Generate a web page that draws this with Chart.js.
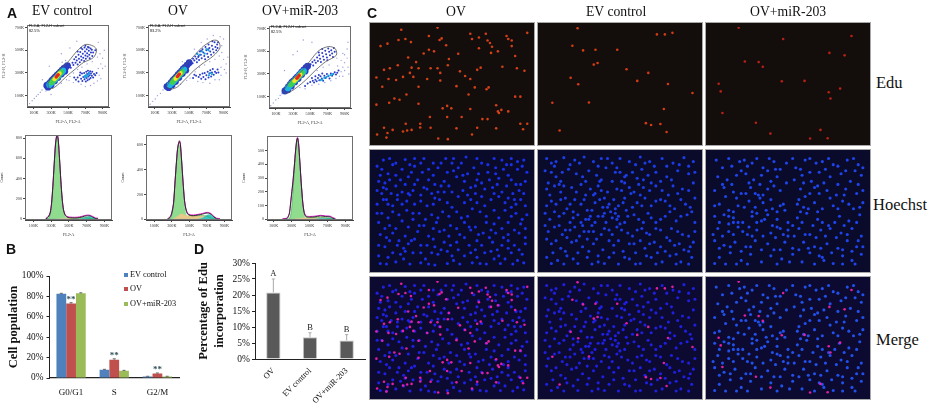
<!DOCTYPE html>
<html>
<head>
<meta charset="utf-8">
<title>Cell cycle and Edu figure</title>
<script src="https://cdn.jsdelivr.net/npm/chart.js@4"></script>
<style>
  html, body { margin: 0; padding: 0; background: #fff; }
  #page { position: relative; width: 931px; height: 406px; overflow: hidden; font-family: "Liberation Serif", serif; color: #111; }
  #page canvas { position: absolute; }
  .txt { position: absolute; white-space: nowrap; line-height: 1; transform: translateY(-50%); }
  .letter { font-family: "Liberation Sans", sans-serif; font-weight: bold; font-size: 14px; }
  .swatch { position: absolute; width: 4px; height: 4px; }
</style>
</head>
<body>
<div id="page"></div>
<script>
// --- panel B: cell population ---
const phases = ['G0/G1', 'S', 'G2/M'];
const groupNames = ['EV control', 'OV', 'OV+miR-203'];
const groupColors = ['#4f81bd', '#c0504d', '#9bbb59'];
const popEv = [82.5, 8, 1.5];
const popOv = [73, 18, 4.5];
const popMir = [83, 7, 1.5];
const popErrEv = [0.5, 0.5, 0.2];
const popErrOv = [0.8, 0.8, 0.4];
const popErrMir = [0.5, 0.5, 0.2];
const popStars = ['**', '**', '**'];
const popTicks = [0, 20, 40, 60, 80, 100];

// --- panel D: Edu incorporation ---
const eduGroups = ['OV', 'EV control', 'OV+miR-203'];
const eduValues = [20.8, 6.8, 5.8];
const eduTops = [25, 8.2, 7.6];
const eduLetters = ['A', 'B', 'B'];
const eduTicks = [0, 5, 10, 15, 20, 25, 30];

// --- panel A: flow axes ---
const flowXTicks = [100, 300, 500, 700, 900];
const flowYTicks = [100, 300, 500, 700];
const flowPercents = ['82.5%', '83.2%', '82.5%'];

// gates, x,y pairs in thousands
const gateEv = [263,207, 319,278, 433,350, 509,408, 604,494, 698,551, 793,537, 831,502, 793,436, 679,393, 585,336, 471,264, 395,207, 319,164, 274,169, 263,207];
const gateOv = [232,178, 308,264, 422,342, 573,465, 668,537, 782,588, 839,580, 858,522, 782,451, 649,379, 554,321, 441,235, 365,178, 289,158, 232,178];
const gateMir = [187,149, 263,235, 395,321, 490,408, 604,508, 717,542, 793,522, 804,465, 679,408, 566,336, 452,250, 338,178, 225,129, 187,149];

// density layers of the G1 blob
const evBlob0 = [250,190, 270,200, 290,215, 310,235, 330,250, 350,265, 370,280, 390,295, 410,310, 430,325, 450,340, 470,350, 490,365, 265,175, 300,195, 340,230, 380,260, 420,290, 460,315];
const evBlob1 = [280,195, 300,210, 320,225, 340,240, 360,255, 380,270, 400,290, 420,305, 440,320];
const evBlob2 = [305,215, 325,230, 345,245, 365,260, 385,275, 405,295, 420,310];
const evBlob3 = [340,245, 355,258, 370,270, 385,285, 400,297];
const evBlob4 = [360,265, 372,275, 384,285];
const ovBlob0 = [240,180, 265,195, 290,215, 310,235, 330,250, 350,265, 370,285, 390,300, 410,315, 430,335, 450,350, 475,370, 500,390, 260,170, 300,195, 340,225, 380,260, 420,295, 460,325];
const ovBlob1 = [275,195, 300,212, 320,228, 340,245, 360,262, 380,278, 400,295, 420,312, 440,330];
const ovBlob2 = [305,218, 325,235, 345,250, 365,266, 385,282, 405,298, 420,312];
const ovBlob3 = [340,248, 355,262, 370,275, 385,288, 400,300];
const ovBlob4 = [362,268, 374,280, 386,290];
const mirBlob0 = [205,150, 225,165, 245,185, 265,205, 285,225, 305,240, 330,258, 350,275, 375,295, 400,315, 425,335, 450,355, 470,370, 240,160, 280,195, 320,230, 360,260, 400,295, 440,325];
const mirBlob1 = [240,175, 260,195, 280,212, 300,228, 325,245, 345,262, 365,280, 385,296, 405,312, 425,325];
const mirBlob2 = [275,205, 295,222, 315,238, 335,252, 355,268, 375,285, 395,300, 410,312];
const mirBlob3 = [315,238, 335,252, 350,265, 365,278, 385,295];
const mirBlob4 = [345,262, 358,274, 372,286];

// blue dots inside the gate and in the lower population
const evBlue = [480,330, 500,350, 520,365, 530,345, 550,390, 560,370, 570,420, 585,390, 590,440, 600,410, 610,375, 620,460, 625,425, 635,395, 640,485, 650,445, 655,415, 665,510, 670,470, 675,435, 685,405, 690,525, 695,490, 700,455, 705,425, 715,510, 720,475, 725,445, 730,530, 740,495, 745,460, 750,430, 760,515, 765,480, 775,505, 780,450, 650,520, 610,490, 700,540, 740,525, 790,480, 815,500,
  590,240, 610,260, 620,225, 635,280, 650,250, 660,295, 665,230, 675,265, 685,300, 690,245, 700,275, 705,225, 710,310, 715,255, 720,290, 725,235, 730,320, 735,270, 740,300, 745,245, 750,280, 755,315, 760,255, 765,295, 775,275, 780,310, 790,260, 800,290, 815,280, 830,300, 570,260, 640,305];
const evHot = [690,270, 705,280, 720,272, 735,285, 700,262, 745,300];
const evSparse = [50,30, 80,55, 105,75, 130,95, 150,110, 175,130, 195,150, 220,180, 240,140, 330,190, 420,210, 480,240, 520,270, 560,300, 610,330, 660,350, 720,380, 780,400, 840,440, 870,470, 900,430, 880,380, 850,340, 900,340, 930,360, 860,280, 880,250, 840,230, 800,210, 760,190, 700,180, 650,200, 560,215, 510,235, 280,360, 420,470, 520,520, 600,580, 850,570, 920,500, 300,110, 200,240, 470,410, 430,395];
const ovBlue = [470,360, 495,380, 520,400, 540,385, 545,425, 560,410, 570,445, 585,425, 595,470, 605,440, 615,415, 625,490, 635,460, 645,430, 655,510, 665,480, 675,450, 685,420, 690,530, 700,500, 710,470, 720,440, 725,550, 735,520, 745,490, 755,460, 765,540, 775,510, 785,480, 795,570, 805,530, 815,500, 825,550, 835,570, 770,580, 720,510, 640,495, 610,450, 590,395, 830,520,
  610,265, 625,285, 640,250, 655,295, 665,265, 680,300, 690,245, 700,280, 715,310, 725,260, 735,295, 745,325, 755,270, 765,305, 775,335, 785,285, 800,310, 815,300, 830,330, 580,275, 545,255, 560,285, 840,305];
const ovHot = [590,470, 620,460, 650,490, 680,470, 700,510, 725,500, 745,300, 765,290, 730,280];
const ovSparse = [45,25, 75,50, 105,70, 130,100, 165,120, 195,150, 215,175, 300,170, 400,200, 470,235, 510,255, 570,310, 620,350, 680,370, 740,400, 800,420, 850,450, 880,480, 900,420, 930,380, 870,350, 910,330, 870,280, 850,240, 800,240, 740,210, 660,215, 600,225, 900,600, 880,540, 860,620, 780,630, 710,600, 640,570, 560,510, 420,400, 930,300, 950,440];
const mirBlue = [455,345, 480,370, 505,385, 525,405, 535,375, 550,420, 565,400, 580,445, 590,415, 605,465, 615,435, 625,405, 640,485, 650,455, 660,425, 675,505, 685,475, 695,445, 710,525, 720,495, 730,465, 745,510, 755,480, 765,450, 775,530, 785,495, 640,520, 600,490, 700,420,
  470,215, 500,230, 530,240, 545,225, 560,250, 575,235, 590,265, 605,245, 620,280, 635,260, 650,240, 665,285, 680,265, 695,300, 710,280, 725,260, 740,305, 755,285, 770,300, 785,315, 800,295, 815,310, 830,330, 600,290, 640,305, 560,280, 520,265, 440,195];
const mirHot = [640,250, 665,265, 690,275, 715,285, 740,290, 765,298, 620,245];
const mirSparse = [40,20, 70,45, 100,70, 130,85, 150,110, 170,125, 300,160, 380,180, 440,170, 520,200, 600,210, 670,225, 740,240, 800,260, 840,280, 860,320, 880,360, 900,400, 930,440, 900,330, 940,360, 950,300, 880,280, 820,370, 860,420, 810,440, 350,500, 420,600, 520,580, 300,470, 200,330, 460,320, 880,480, 930,520, 720,380, 650,360, 580,330, 940,580, 900,470];

// --- panel A: DNA histograms, x in thousands ---
const histEvX = [240, 270, 290, 305, 320, 335, 350, 362, 372, 382, 395, 410, 425, 440, 460, 490, 520, 560, 600, 640, 680, 710, 740, 770, 800, 830];
const histEvTotal = [0, 20, 60, 150, 320, 540, 740, 815, 825, 770, 600, 380, 200, 90, 35, 15, 12, 10, 12, 18, 28, 32, 30, 18, 5, 0];
const histEvG1 = [0, 5, 40, 130, 300, 520, 725, 800, 812, 755, 585, 365, 185, 75, 22, 4, 0, 0, 0, 0, 0, 0, 0, 0, 0, 0];
const histEvS = [0, 0, 0, 0, 0, 0, 0, 2, 3, 4, 5, 6, 8, 9, 10, 12, 11, 10, 11, 12, 12, 9, 5, 2, 0, 0];
const histEvG2 = [0, 0, 0, 0, 0, 0, 0, 0, 0, 0, 0, 0, 0, 0, 0, 0, 0, 0, 2, 6, 15, 22, 24, 15, 4, 0];
const histOvX = [250, 280, 300, 320, 335, 350, 365, 378, 388, 398, 412, 428, 445, 460, 480, 510, 550, 600, 650, 690, 720, 750, 780, 810, 850];
const histOvTotal = [0, 15, 50, 130, 280, 430, 560, 610, 625, 600, 470, 300, 150, 85, 45, 32, 30, 35, 42, 50, 50, 40, 20, 5, 0];
const histOvG1 = [0, 5, 35, 110, 260, 410, 535, 585, 598, 570, 440, 270, 120, 50, 10, 0, 0, 0, 0, 0, 0, 0, 0, 0, 0];
const histOvS = [0, 0, 2, 6, 12, 18, 24, 30, 38, 42, 44, 42, 36, 34, 32, 30, 28, 30, 30, 28, 20, 10, 3, 0, 0];
const histOvG2 = [0, 0, 0, 0, 0, 0, 0, 0, 0, 0, 0, 0, 0, 0, 0, 0, 0, 2, 12, 30, 40, 36, 18, 4, 0];
const histMirX = [200, 250, 275, 290, 300, 315, 330, 345, 358, 367, 378, 392, 408, 425, 440, 460, 500, 560, 620, 680, 730, 760, 790];
const histMirTotal = [0, 5, 40, 120, 180, 270, 380, 500, 575, 590, 550, 420, 260, 120, 50, 20, 16, 18, 24, 20, 18, 8, 0];
const histMirG1 = [0, 0, 4, 30, 70, 190, 340, 480, 560, 578, 535, 405, 245, 105, 35, 6, 0, 0, 0, 0, 0, 0, 0];
const histMirS = [0, 0, 0, 0, 1, 2, 3, 4, 5, 6, 7, 8, 9, 10, 11, 12, 12, 13, 14, 12, 8, 3, 0];
const histMirG2 = [0, 0, 0, 0, 0, 0, 0, 0, 0, 0, 0, 0, 0, 0, 0, 0, 0, 2, 8, 8, 9, 4, 0];
const histEvTicks = [0, 200, 400, 600, 800];
const histOvTicks = [0, 200, 400, 600];
const histMirTicks = [0, 100, 200, 300, 400, 500];

const fieldNames = ['OV', 'EV control', 'OV+miR-203'];
const eduCellsOv = [159,29, 79,9, 184,2, 190,42, 196,37, 71,42, 91,39, 107,49, 39,54, 19,62, 209,59, 159,74, 174,79, 144,86, 99,99, 244,87, 217,104, 284,39, 304,34, 324,22, 279,22, 329,44, 336,52, 342,64, 304,69, 359,79, 339,84, 384,29, 399,44, 389,39, 399,62, 444,19, 409,94, 122,114, 69,124, 46,134, 29,139, 109,132, 129,134, 104,149, 114,162, 84,162, 164,134, 184,134, 192,149, 214,124, 249,144, 299,139, 309,132, 264,159, 279,169, 372,129, 414,134, 436,142, 7,164, 42,169, 64,172, 154,169, 192,174, 239,192, 129,194, 24,194, 292,196, 326,202, 332,196, 274,219, 94,219, 59,232, 74,236, 44,246, 7,252, 129,249, 212,256, 199,264, 224,264, 279,266, 354,254, 359,274, 362,279, 409,226, 424,226, 389,274, 369,269, 212,292, 162,292, 254,292, 314,299, 329,299, 134,314, 92,314, 29,327, 54,334, 84,339, 96,336, 109,334, 134,326, 164,327, 239,329, 299,327, 284,349, 39,344, 9,349, 354,329, 424,314, 444,314, 432,332, 186,362, 214,364, 36,359];
const eduCellsEv = [103,4, 356,24, 378,19, 88,61, 119,76, 155,74, 218,74, 161,117, 150,122, 245,137, 276,175, 83,165, 105,186, 365,185, 436,214, 136,245, 30,246, 353,266, 316,318, 301,312, 343,315, 361,341, 51,336, 308,149, 333,24];
const eduCellsMir = [212,39, 346,84, 390,92, 101,112, 141,114, 153,129, 208,176, 274,175, 25,184, 31,209, 344,212, 377,200, 36,279, 320,334, 175,346, 290,362, 341,361, 133,311, 83,2, 410,29, 349,232];
const nucleiOv = [30,20, 50,15, 100,18, 130,15, 160,15, 190,30, 215,30, 255,15, 295,10, 330,15, 385,15, 410,20, 440,15, 480,20,
  25,50, 45,65, 90,50, 130,40, 155,60, 205,45, 235,60, 270,45, 320,45, 345,30, 390,45, 415,50, 460,50, 475,40,
  15,90, 50,85, 85,85, 110,75, 140,85, 175,85, 195,100, 240,105, 265,75, 290,90, 310,110, 345,95, 370,85, 400,80, 440,85, 485,90,
  25,130, 55,130, 90,125, 125,120, 150,135, 185,130, 225,125, 285,120, 325,130, 355,115, 410,125, 430,145, 465,120,
  10,165, 45,165, 75,150, 105,155, 130,165, 170,170, 210,150, 235,160, 270,140, 290,160, 330,160, 375,150, 400,140, 440,175, 470,150, 485,170,
  25,195, 60,190, 105,185, 145,195, 185,200, 220,190, 265,190, 300,205, 340,190, 385,185, 420,185, 455,195, 490,200,
  15,225, 50,235, 90,220, 125,215, 160,235, 200,225, 245,235, 290,225, 325,240, 360,225, 385,230, 430,225, 470,230,
  20,265, 60,260, 100,270, 140,255, 175,270, 210,255, 240,270, 275,265, 310,250, 350,260, 390,260, 430,265, 465,260,
  35,305, 75,300, 110,295, 150,300, 195,305, 225,290, 265,290, 305,300, 345,300, 380,290, 410,300, 450,300, 485,295,
  15,335, 45,340, 85,330, 125,325, 165,345, 205,330, 250,335, 290,335, 330,340, 375,320, 400,335, 440,325, 475,330,
  40,362, 70,355, 115,362, 150,358, 195,365, 235,360, 275,362, 315,358, 360,362, 405,360, 445,362, 480,358,
  70,30, 115,35, 175,50, 250,30, 300,65, 365,60, 440,35, 30,110, 70,105, 160,110, 215,105, 330,85, 380,110, 425,105, 470,100,
  40,150, 115,135, 195,145, 250,125, 345,140, 450,150, 80,200, 165,215, 240,205, 315,180, 400,210, 35,245, 110,240, 225,250, 335,265, 410,245, 485,245,
  50,285, 130,280, 245,300, 330,285, 430,285, 100,320, 185,325, 270,315, 355,325, 465,315,
  10,40, 60,35, 150,30, 230,15, 280,30, 365,35, 425,35, 460,25, 490,60, 20,70, 70,70, 120,60, 190,70, 255,55, 285,70, 335,65, 390,65, 430,70,
  35,95, 100,100, 130,100, 225,90, 325,105, 395,100, 455,100, 10,120, 40,115, 75,135, 110,130, 170,115, 205,125, 300,135, 385,130, 445,130, 480,130,
  30,150, 60,170, 90,165, 150,155, 190,165, 250,175, 310,150, 355,170, 420,160, 455,165, 45,210, 10,195, 125,195, 205,210, 280,210, 360,205, 440,205, 475,215,
  70,245, 145,235, 190,245, 265,245, 305,240, 375,250, 450,250, 40,275, 80,285, 120,285, 190,280, 290,275, 370,275, 415,275, 485,275,
  15,300, 95,310, 170,300, 215,315, 325,315, 395,315, 430,310, 60,325, 150,325, 235,320, 310,325, 420,345, 460,350, 20,360, 95,345, 175,362, 255,350, 340,360, 385,345];
const nucleiEv = [15,15, 45,25, 70,12, 105,20, 135,10, 165,25, 190,15, 225,30, 250,15, 280,25, 315,10, 345,25, 385,15, 420,30, 455,12, 485,25,
  30,60, 45,75, 60,90, 20,95, 85,50, 110,65, 150,55, 175,70, 205,45, 235,60, 265,75, 290,60, 320,50, 365,60, 400,75, 435,55, 470,65,
  40,105, 60,125, 75,145, 25,135, 95,110, 125,100, 155,115, 180,105, 210,125, 240,115, 265,95, 295,125, 325,110, 350,95, 385,120, 420,105, 450,115, 485,95,
  15,170, 45,165, 80,180, 105,150, 125,165, 145,185, 170,160, 195,175, 220,190, 245,170, 270,185, 305,160, 330,145, 365,155, 380,150, 410,170, 445,150, 475,175,
  25,215, 55,205, 90,225, 115,200, 140,215, 160,235, 180,205, 205,225, 225,210, 250,230, 275,205, 310,215, 340,195, 365,225, 395,205, 430,220, 465,200, 490,225,
  20,255, 40,240, 65,265, 90,250, 120,270, 150,255, 175,280, 200,245, 225,265, 255,250, 290,270, 320,245, 345,265, 380,250, 400,275, 435,255, 470,270,
  30,295, 60,310, 95,290, 130,305, 165,295, 195,315, 230,300, 260,320, 295,295, 330,310, 360,290, 395,320, 425,300, 455,315, 485,290,
  15,340, 50,350, 80,335, 115,360, 145,340, 180,355, 215,340, 245,362, 280,345, 315,360, 350,340, 385,355, 410,335, 445,355, 480,340,
  140,90, 165,135, 190,120, 230,150, 215,165, 200,195, 235,195, 155,205, 265,145, 285,130, 310,100, 325,85, 255,90, 270,70, 185,90, 40,40, 55,100, 100,190, 130,235, 215,250, 240,215,
  30,30, 90,35, 120,30, 180,40, 210,15, 240,45, 300,35, 330,30, 360,40, 400,40, 440,35, 470,40, 10,55, 65,60, 130,75, 190,85, 225,90, 250,60, 305,80, 340,70, 380,90, 415,85, 490,60,
  15,115, 70,105, 110,125, 140,135, 170,130, 200,145, 255,120, 280,110, 315,135, 345,120, 365,105, 405,135, 435,130, 470,120, 30,155, 60,150, 90,165, 135,150, 160,185, 185,150, 210,175, 235,180, 260,160, 290,175, 320,170, 350,170, 395,155, 425,180, 460,165, 490,145,
  10,195, 40,190, 70,195, 100,210, 125,225, 150,215, 170,225, 195,205, 245,205, 265,225, 295,200, 325,225, 350,210, 380,215, 410,190, 445,205, 480,190, 10,235, 55,235, 75,250, 105,240, 135,255, 165,255, 190,265, 240,240, 275,260, 305,250, 335,260, 365,245, 415,245, 450,265, 490,255,
  15,280, 45,285, 80,275, 110,285, 145,280, 215,285, 245,285, 280,295, 315,285, 345,295, 380,305, 410,285, 440,295, 475,305, 35,325, 75,320, 115,325, 150,320, 180,335, 230,325, 265,340, 300,325, 335,335, 370,325, 430,330, 470,320, 30,360, 70,362, 100,345, 160,362, 200,360, 300,362, 365,362, 430,362, 470,362];
const nucleiMir = [20,20, 40,45, 60,15, 95,25, 120,40, 150,15, 170,45, 205,25, 225,50, 265,15, 275,45, 305,20, 340,30, 380,15, 410,40, 440,20, 475,35,
  25,75, 55,85, 85,70, 115,65, 140,85, 165,70, 195,90, 215,75, 245,95, 270,85, 295,70, 325,90, 350,60, 385,75, 420,65, 450,90, 485,70,
  15,120, 45,110, 75,125, 100,130, 130,110, 155,135, 185,115, 225,120, 290,115, 320,130, 345,105, 375,120, 405,135, 435,115, 470,130,
  30,165, 60,185, 90,170, 125,155, 145,175, 170,160, 200,180, 225,170, 240,185, 285,150, 300,175, 335,160, 360,180, 395,170, 425,155, 460,180, 490,160,
  15,205, 45,200, 75,210, 105,225, 135,205, 165,220, 185,200, 215,215, 250,225, 280,210, 310,195, 345,215, 380,235, 415,205, 445,220, 480,200,
  25,245, 60,255, 90,240, 120,265, 150,250, 195,260, 225,245, 250,270, 285,245, 320,265, 355,250, 385,245, 420,260, 455,245, 485,270,
  15,285, 45,300, 80,290, 115,305, 145,285, 185,295, 205,315, 240,290, 265,310, 300,290, 335,305, 375,295, 410,310, 440,285, 470,305,
  30,340, 65,325, 100,350, 130,330, 165,355, 195,335, 230,345, 265,330, 295,355, 320,325, 360,340, 395,360, 425,335, 455,350, 485,330,
  145,130, 160,145, 235,165, 280,165, 290,190, 150,195, 175,215, 215,240, 250,250, 350,335, 365,350, 60,205, 75,225,
  110,20, 135,30, 190,15, 245,30, 320,15, 360,25, 395,35, 460,15, 490,45, 70,40, 100,55, 185,55, 210,50, 290,50, 320,60, 370,50, 435,55, 465,55, 40,100, 70,100, 125,95, 160,100, 205,105, 300,95, 335,110, 365,95, 410,100, 475,100,
  50,140, 85,145, 115,130, 170,135, 195,150, 305,140, 350,130, 385,145, 430,135, 490,120, 15,170, 75,190, 110,175, 135,190, 180,185, 215,190, 315,180, 345,190, 410,180, 445,165, 480,175, 30,225, 60,230, 90,225, 125,240, 150,225, 200,235, 265,235, 295,225, 330,235, 360,225, 400,225, 430,235, 470,225,
  10,265, 40,270, 75,265, 105,255, 135,270, 170,270, 210,275, 235,265, 270,270, 305,265, 340,275, 370,270, 405,275, 440,265, 475,285, 30,310, 65,305, 100,320, 130,305, 165,315, 225,315, 285,315, 315,310, 355,310, 390,325, 425,315, 455,320, 490,305, 15,360, 50,362, 85,362, 120,362, 215,362, 255,355, 335,362, 425,362, 465,362];

// --- helpers ---
Chart.defaults.animation = false;
Chart.defaults.responsive = false;
Chart.defaults.devicePixelRatio = 1;
Chart.defaults.font.family = '"Liberation Serif", serif';
Chart.defaults.color = '#111';
Chart.defaults.plugins.legend.display = false;
Chart.defaults.plugins.tooltip.enabled = false;

const page = document.getElementById('page');

function addCanvas(x, y, w, h, css) {
  const c = document.createElement('canvas');
  c.width = w;
  c.height = h;
  c.style.cssText = `left:${x}px;top:${y}px;width:${w}px;height:${h}px;${css || ''}`;
  page.appendChild(c);
  return c;
}

function addText(text, x, y, size, cls) {
  const d = document.createElement('div');
  d.className = 'txt' + (cls ? ' ' + cls : '');
  d.textContent = text;
  d.style.left = x + 'px';
  d.style.top = y + 'px';
  if (size) d.style.fontSize = size + 'px';
  page.appendChild(d);
  return d;
}

function pairs(flat) {
  const out = [];
  for (let i = 0; i < flat.length; i += 2) out.push({ x: flat[i], y: flat[i + 1] });
  return out;
}

function zipXY(xs, ys) {
  return xs.map((x, i) => ({ x, y: ys[i] }));
}

// pin an axis to a fixed thickness so the plot box lands where it should
const pinWidth = w => s => { s.width = w; s.paddingTop = s.paddingBottom = 0; };
const pinHeight = h => s => { s.height = h; s.paddingLeft = s.paddingRight = 0; };
const tickList = list => s => { s.ticks = list.map(v => ({ value: v })); };

const framePlugin = {
  id: 'frame',
  afterDatasetsDraw(chart) {
    const a = chart.chartArea, g = chart.ctx;
    g.save();
    g.strokeStyle = '#6e6e6e';
    g.lineWidth = 1;
    g.strokeRect(a.left + 0.5, a.top + 0.5, a.right - a.left - 1, a.bottom - a.top - 1);
    g.restore();
  }
};

function tinyAxes(xRange, yRange, yTicks, yLabel, xLabel, xFmt) {
  const tiny = { size: 4.2 };
  return {
    x: {
      type: 'linear', min: xRange[0], max: xRange[1],
      afterBuildTicks: tickList(flowXTicks), afterFit: pinHeight(18),
      grid: { drawOnChartArea: false, tickLength: 2, color: '#444' }, border: { color: '#444' },
      ticks: { font: tiny, color: '#333', padding: 1, maxRotation: 0, autoSkip: false, callback: xFmt },
      title: { display: true, text: xLabel, font: tiny, color: '#333', padding: 1 }
    },
    y: {
      min: yRange[0], max: yRange[1],
      afterBuildTicks: tickList(yTicks), afterFit: pinWidth(27),
      grid: { drawOnChartArea: false, tickLength: 2, color: '#444' }, border: { color: '#444' },
      ticks: { font: tiny, color: '#333', padding: 1, autoSkip: false, callback: yTicks === flowYTicks ? xFmt : v => v },
      title: { display: true, text: yLabel, font: tiny, color: '#333', padding: 1 }
    }
  };
}

const kFmt = v => v + 'K';

// --- panel A top ---
function flowPlot(boxX, boxY, percent, gate, blobs, blue, hot, sparse) {
  const w = 27 + 84 + 2, h = 2 + 84 + 18;
  const canvas = addCanvas(boxX - 27, boxY - 2, w, h, 'filter:blur(0.3px)');
  const blobColors = ['#2b3cc4', '#19b6e0', '#3fcf50', '#f2e52c', '#e8261f'];
  const blobSizes = [3.4, 3.1, 2.6, 2.1, 1.7];
  const dot = (data, color, r, order) => ({ data: pairs(data), backgroundColor: color, borderWidth: 0, pointRadius: r, showLine: false, order });
  new Chart(canvas, {
    type: 'scatter',
    data: {
      datasets: [
        dot(sparse, '#9aa0d8', 0.7, 10),
        dot(blue, '#2a3bc8', 1, 9),
        dot(hot, '#1aa6dc', 1.1, 8),
        ...blobs.map((b, i) => dot(b, blobColors[i], blobSizes[i], 7 - i)),
        { data: pairs(gate), showLine: true, fill: false, borderColor: '#555', borderWidth: 0.8, pointRadius: 0, tension: 0.3, order: 0 }
      ]
    },
    options: {
      layout: { padding: { top: 2, right: 2 } },
      scales: tinyAxes([20, 975], [0, 723], flowYTicks, 'FL2-H, FL2-H', 'FL2-A, FL2-A', kFmt)
    },
    plugins: [framePlugin]
  });
  addText('FL2-A, FL2-H subset', boxX + 2, boxY + 3.5, 3.8).style.fontFamily = '"Liberation Sans", sans-serif';
  addText(percent, boxX + 2, boxY + 8.5, 3.8).style.fontFamily = '"Liberation Sans", sans-serif';
}

flowPlot(27, 23, flowPercents[0], gateEv, [evBlob0, evBlob1, evBlob2, evBlob3, evBlob4], evBlue, evHot, evSparse);
flowPlot(148, 23, flowPercents[1], gateOv, [ovBlob0, ovBlob1, ovBlob2, ovBlob3, ovBlob4], ovBlue, ovHot, ovSparse);
flowPlot(269, 24, flowPercents[2], gateMir, [mirBlob0, mirBlob1, mirBlob2, mirBlob3, mirBlob4], mirBlue, mirHot, mirSparse);

// --- panel A bottom ---
function histPlot(boxX, boxY, boxW, boxH, xRange, yRange, yTicks, xs, total, g1, s, g2) {
  const w = 27 + boxW + 2, h = 2 + boxH + 18;
  const canvas = addCanvas(boxX - 27, boxY - 2, w, h, 'filter:blur(0.3px)');
  const stacked = g1.map((v, i) => v + s[i]);
  const area = (ys, color, order) => ({ data: zipXY(xs, ys), fill: 'origin', backgroundColor: color, borderColor: color, borderWidth: 0.4, pointRadius: 0, tension: 0.25, order });
  const line = (ys, color, bw, order) => ({ data: zipXY(xs, ys), fill: false, borderColor: color, borderWidth: bw, pointRadius: 0, tension: 0.25, order });
  new Chart(canvas, {
    type: 'line',
    data: {
      datasets: [
        area(g1, '#8fdc8f', 5),
        area(s, '#e9c98a', 4),
        area(g2, '#37c8c0', 3),
        line(stacked, '#2f9e3f', 0.5, 2),
        line(total.map(v => v + yRange[1] * 0.008), '#e000c8', 0.9, 1),
        line(total, '#222', 0.9, 0)
      ]
    },
    options: {
      layout: { padding: { top: 2, right: 2 } },
      scales: tinyAxes(xRange, yRange, yTicks, 'Count', 'FL2-A', kFmt)
    },
    plugins: [framePlugin]
  });
}

histPlot(25, 135, 87, 85, [6, 987], [-10, 830], histEvTicks, histEvX, histEvTotal, histEvG1, histEvS, histEvG2);
histPlot(146, 135, 86, 85, [5, 988], [-5, 678], histOvTicks, histOvX, histOvTotal, histOvG1, histOvS, histOvG2);
histPlot(267, 136, 86, 84, [26, 985], [-5, 605], histMirTicks, histMirX, histMirTotal, histMirG1, histMirS, histMirG2);

// --- panel B ---
const whiskers = {
  id: 'whiskers',
  afterDatasetsDraw(chart, args, opts) {
    const g = chart.ctx, yScale = chart.scales.y;
    g.save();
    g.strokeStyle = opts.color;
    g.lineWidth = 1;
    opts.tops.forEach((tops, di) => {
      chart.getDatasetMeta(di).data.forEach((bar, i) => {
        const py = yScale.getPixelForValue(tops[i]);
        g.beginPath();
        g.moveTo(bar.x, bar.y);
        g.lineTo(bar.x, py);
        g.moveTo(bar.x - 1.5, py);
        g.lineTo(bar.x + 1.5, py);
        g.stroke();
      });
    });
    g.restore();
  }
};

const barMarks = {
  id: 'barMarks',
  afterDraw(chart, args, opts) {
    const g = chart.ctx, yScale = chart.scales.y;
    g.save();
    g.font = opts.font;
    g.fillStyle = opts.color;
    g.textAlign = 'center';
    g.textBaseline = 'bottom';
    chart.getDatasetMeta(opts.dataset).data.forEach((bar, i) => {
      g.fillText(opts.marks[i], bar.x, yScale.getPixelForValue(opts.tops[i]) - opts.gap);
    });
    g.restore();
  }
};

const withErr = (vals, errs) => vals.map((v, i) => v + errs[i]);

new Chart(addCanvas(0, 268, 185, 138, 'filter:blur(0.25px)'), {
  type: 'bar',
  data: {
    labels: phases,
    datasets: [popEv, popOv, popMir].map((vals, i) => ({
      label: groupNames[i], data: vals, backgroundColor: groupColors[i],
      categoryPercentage: 0.678, barPercentage: 1
    }))
  },
  options: {
    layout: { padding: { top: 8, right: 6 } },
    plugins: {
      whiskers: { color: '#666', tops: [withErr(popEv, popErrEv), withErr(popOv, popErrOv), withErr(popMir, popErrMir)] },
      barMarks: { dataset: 1, marks: popStars, tops: withErr(popOv, popErrOv), font: 'bold 9px "Liberation Serif"', color: '#33505a', gap: -1 }
    },
    scales: {
      x: {
        afterFit: pinHeight(28),
        grid: { drawOnChartArea: false, drawTicks: false }, border: { color: '#222', width: 1.2 },
        ticks: { font: { size: 9 }, padding: 9 }
      },
      y: {
        min: 0, max: 100,
        afterBuildTicks: tickList(popTicks), afterFit: pinWidth(49.5),
        grid: { drawOnChartArea: false, tickLength: 3, color: '#222' }, border: { color: '#222', width: 1 },
        ticks: { font: { size: 9.3 }, padding: 3, callback: v => v + '%' },
        title: { display: true, text: 'Cell population', font: { size: 12.5, weight: 'bold' }, padding: { top: 6, bottom: 0 } }
      }
    }
  },
  plugins: [whiskers, barMarks]
});

// legend of panel B
groupNames.forEach((name, i) => {
  const y = 274.5 + i * 14.6;
  const sw = document.createElement('div');
  sw.className = 'swatch';
  sw.style.cssText = `left:124px;top:${y - 2}px;background:${groupColors[i]}`;
  page.appendChild(sw);
  addText(name, 130, y, 8.3);
});

// --- panel D ---
new Chart(addCanvas(196, 255, 175, 151, 'filter:blur(0.25px)'), {
  type: 'bar',
  data: {
    labels: eduGroups,
    datasets: [{
      data: eduValues, backgroundColor: '#595959', borderColor: '#c4c4c4', borderWidth: 1,
      barPercentage: 0.39, categoryPercentage: 1
    }]
  },
  options: {
    layout: { padding: { top: 8, right: 6 } },
    plugins: {
      whiskers: { color: '#a9a9a9', tops: [eduTops] },
      barMarks: { dataset: 0, marks: eduLetters, tops: eduTops, font: '8.5px "Liberation Serif"', color: '#222', gap: 1 }
    },
    scales: {
      x: {
        afterFit: pinHeight(47),
        grid: { drawOnChartArea: false, drawTicks: false }, border: { color: '#222', width: 1 },
        ticks: { font: { size: 8.3 }, padding: 7, minRotation: 45, maxRotation: 45, autoSkip: false }
      },
      y: {
        min: 0, max: 30,
        afterBuildTicks: tickList(eduTicks), afterFit: pinWidth(59),
        grid: { drawOnChartArea: false, tickLength: 3, color: '#222' }, border: { color: '#222', width: 1 },
        ticks: { font: { size: 9.5 }, padding: 2, callback: v => v + '%' },
        title: { display: true, text: ['Percentage of Edu', 'incorporation'], font: { size: 12.5, weight: 'bold', lineHeight: 1.25 }, padding: 0 }
      }
    }
  },
  plugins: [whiskers, barMarks]
});

// --- panel C ---
function field(x, y, bg, nuclei, nucleusColor, cells, cellColor) {
  const sets = [];
  // edu cells sit on top of the nuclei in the merge row
  if (cells) sets.push({ data: pairs(cells), backgroundColor: cellColor, borderWidth: 0, pointRadius: 1.3, xAxisID: 'xe', yAxisID: 'ye' });
  if (nuclei) sets.push({ data: pairs(nuclei), backgroundColor: nucleusColor, borderWidth: 0, pointRadius: 1.55, xAxisID: 'x', yAxisID: 'y' });
  const canvas = addCanvas(x, y, 164, 122, `background:${bg};outline:1px solid #a8a8a8;filter:blur(0.4px)`);
  new Chart(canvas, {
    type: 'scatter',
    data: { datasets: sets },
    options: {
      scales: {
        x: { display: false, min: 0, max: 500 },
        y: { display: false, min: 0, max: 375, reverse: true },
        xe: { display: false, min: 0, max: 452 },
        ye: { display: false, min: 0, max: 370, reverse: true }
      }
    }
  });
}

const colX = [370, 538, 706];
const rowY = [23, 150, 277];
const eduByCol = [eduCellsOv, eduCellsEv, eduCellsMir];
const nucleiByCol = [nucleiOv, nucleiEv, nucleiMir];
const eduColor = ['rgba(232,70,24,0.9)', 'rgba(232,64,20,0.9)', 'rgba(214,36,24,0.85)'];
const nucleiColor = ['#1a30e8', '#1c3ce4', '#1e44ea'];
const mergeColor = ['#2020e4', '#1f1fe0', '#2250ea'];

colX.forEach((x, i) => {
  field(x, rowY[0], '#130d0c', null, null, eduByCol[i], eduColor[i]);
  field(x, rowY[1], '#0a0a2a', nucleiByCol[i], nucleiColor[i], null, null);
  field(x, rowY[2], '#0c0a30', nucleiByCol[i], mergeColor[i], eduByCol[i], 'rgba(238,32,170,0.95)');
});

// --- titles ---
addText('A', 7, 13, null, 'letter');
addText('B', 6, 249, null, 'letter');
addText('C', 367, 13, null, 'letter');
addText('D', 194, 249, null, 'letter');

addText('EV control', 32, 11, 13.7);
addText('OV', 168, 11, 13.7);
addText('OV+miR-203', 262, 11, 13.7);

addText(fieldNames[0], 446, 12, 13.7);
addText(fieldNames[1], 586, 12, 13.7);
addText(fieldNames[2], 750, 12, 13.7);

addText('Edu', 876, 83, 16.5);
addText('Hoechst', 873, 205, 16.5);
addText('Merge', 876, 340, 16.5);
</script>
</body>
</html>
